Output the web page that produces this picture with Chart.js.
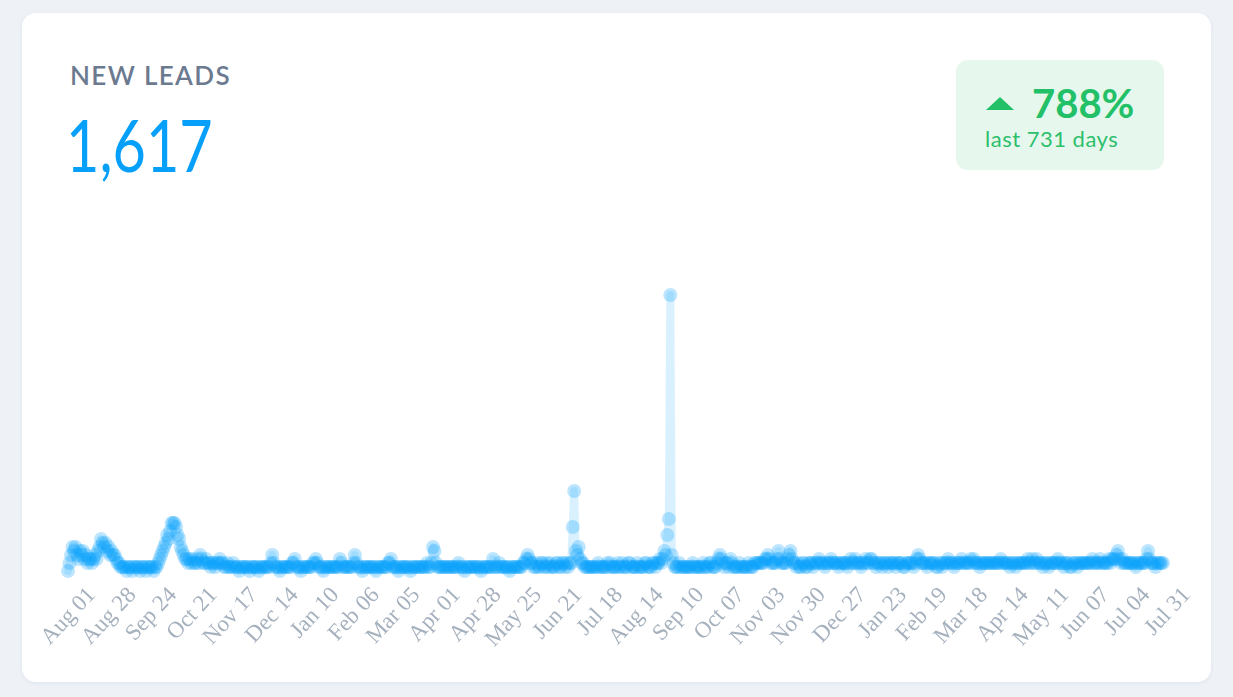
<!DOCTYPE html>
<html lang="en">
<head>
    <meta charset="UTF-8">
    <title>New Leads</title>
    <script src="https://cdn.jsdelivr.net/npm/chart.js"></script>
    <style>
        body { margin: 0; background: #eef2f7; font-family: Lato, "Open Sans", sans-serif; }
        .card {
            position: absolute; left: 22px; top: 13px; width: 1189px; height: 669px;
            background: #fff; border-radius: 14px; box-shadow: 0 1px 4px rgba(30, 50, 80, 0.07);
        }
        .title { position: absolute; left: 48px; top: 46px; font-size: 26px; font-weight: 600; color: #6c7a90; letter-spacing: 1.4px; }
        .total {
            position: absolute; left: 44px; top: 88px; font-size: 72px; font-weight: 400; color: #06a0fa;
            transform: scaleX(0.8); transform-origin: left top;
        }
        .badge {
            position: absolute; left: 934px; top: 47px; width: 208px; height: 110px;
            background: #e6f7ee; border-radius: 12px; color: #22c067;
        }
        .badge .up {
            position: absolute; left: 30px; top: 37px; width: 0; height: 0;
            border-left: 14px solid transparent; border-right: 14px solid transparent; border-bottom: 13px solid #22c067;
        }
        .badge .pct { position: absolute; left: 76px; top: 19px; font-size: 40px; font-weight: 700; }
        .badge .days { position: absolute; left: 29px; top: 65px; font-size: 22px; color: #2cbf6c; letter-spacing: 0.5px; }
        .chart-box { position: absolute; left: 0; top: 190px; width: 1189px; height: 479px; }
    </style>
</head>
<body>
    <div class="card">
        <div class="title">NEW LEADS</div>
        <div class="total">1,617</div>
        <div class="badge">
            <div class="up"></div>
            <div class="pct">788%</div>
            <div class="days">last 731 days</div>
        </div>
        <div class="chart-box"><canvas id="chart"></canvas></div>
    </div>
    <script>
        // daily new leads, Aug 01 2020 .. Jul 31 2022
        var startDate = '2020-08-01';
        var tickEvery = 27;
        var leads = [
            0,2,4,6,5,6,4,3,5,4, 5,3,4,2,3,3,2,3,4,3, 5,6,8,7,6,7,5,6,4,5,
            4,4,3,2,2,1,1,1,1,0, 1,1,1,0,1,1,1,1,0,1, 1,1,0,1,1,1,1,0,1,1,
            2,3,4,5,6,7,9,8,10,12, 12,12,11,9,8,6,5,4,3,3, 2,3,2,3,2,2,3,2,4,3,
            2,2,3,2,2,1,2,2,1,2, 2,3,2,2,1,1,2,1,1,1, 2,1,1,1,0,1,1,1,1,1,
            1,0,1,1,1,1,1,0,1,1, 1,1,1,1,1,2,4,2,1,1, 1,0,1,1,1,1,1,1,1,2,
            2,3,1,1,1,0,1,1,1,1, 1,1,1,2,2,3,2,1,1,1, 0,1,1,1,1,1,1,1,1,1,
            1,3,2,1,1,1,1,1,1,1, 2,4,2,1,1,1,0,1,1,1, 1,1,1,1,1,0,1,1,1,1,
            1,1,1,2,2,3,1,1,1,1, 0,1,1,1,1,1,1,1,0,1, 1,1,1,1,1,1,1,1,1,2,
            1,1,2,6,5,2,1,1,1,1, 1,1,1,1,1,1,1,1,1,1, 2,1,1,1,0,1,1,1,1,1,
            1,1,1,1,1,0,1,1,1,1, 1,1,1,3,1,1,1,2,1,1, 1,1,1,1,0,1,1,1,1,1,
            1,1,1,2,2,3,4,3,2,2, 1,1,2,1,1,2,2,1,1,2, 1,2,1,1,1,2,2,1,1,2,
            2,1,2,1,2,2,11,20,5,4, 6,3,2,2,1,1,1,1,1,1, 1,1,1,2,1,1,1,1,1,2,
            1,2,1,1,1,1,2,1,1,2, 1,1,1,2,2,1,1,1,1,2, 1,1,1,1,2,2,1,1,1,2,
            2,1,2,2,3,2,3,5,4,9, 13,69,4,2,1,1,1,2,1,1, 1,1,1,1,1,1,2,1,1,1,
            1,1,1,2,1,1,1,2,2,1, 1,1,2,3,4,3,2,1,2,2, 1,3,2,1,1,1,1,2,1,1,
            1,1,1,2,1,1,1,2,2,2, 2,2,2,2,3,3,4,3,2,2, 2,2,3,5,3,2,2,2,2,3,
            4,5,3,2,2,1,2,1,1,2, 2,1,1,2,2,2,1,2,2,2, 3,2,2,2,1,2,2,2,3,2,
            2,2,2,1,2,2,2,2,2,1, 2,3,2,2,3,2,2,2,1,2, 2,3,2,2,3,3,2,2,1,2,
            2,2,1,2,2,2,1,2,2,2, 2,1,2,2,2,2,1,1,2,2, 2,2,2,1,2,3,4,3,2,2,
            2,2,1,2,2,2,2,2,1,1, 2,2,1,2,2,2,3,2,2,2, 1,2,2,2,2,3,2,2,2,2,
            2,3,2,3,2,2,2,1,2,2, 2,2,2,2,2,2,2,2,2,2, 2,3,2,2,2,2,2,1,2,2,
            2,1,2,2,2,2,2,2,2,3, 2,2,3,2,2,3,2,2,2,1, 2,2,2,1,2,2,2,2,2,3,
            2,2,2,1,2,2,2,1,1,2, 2,2,1,2,2,2,2,2,2,2, 2,2,3,2,2,2,2,3,2,2,
            2,2,2,3,2,3,3,3,4,5, 3,2,3,2,2,2,2,2,2,2, 2,1,2,2,2,2,2,2,3,5,
            3,2,2,2,1,2,2,2,2,2
        ];

        var months = ['Jan','Feb','Mar','Apr','May','Jun','Jul','Aug','Sep','Oct','Nov','Dec'];
        var days = [];
        var d0 = new Date(startDate + 'T00:00:00Z');
        for (var i = 0; i < leads.length; i++) {
            var d = new Date(d0.getTime() + i * 86400000);
            var dd = d.getUTCDate();
            days.push(months[d.getUTCMonth()] + ' ' + (dd < 10 ? '0' + dd : dd));
        }

        var ctx = document.getElementById('chart').getContext('2d');
        var chart = new Chart(ctx, {
            type: 'line',
            data: {
                labels: days,
                datasets: [{
                    label: 'New leads',
                    data: leads,
                    borderColor: 'rgba(0, 160, 250, 0.15)',
                    borderWidth: 8,
                    borderJoinStyle: 'round',
                    borderCapStyle: 'round',
                    pointRadius: 7,
                    pointBorderWidth: 0,
                    pointBackgroundColor: 'rgba(0, 160, 250, 0.26)',
                    tension: 0,
                    clip: false
                }]
            },
            options: {
                responsive: true,
                maintainAspectRatio: false,
                animation: false,
                layout: { padding: { left: 46, right: 48, top: 48, bottom: 21 } },
                plugins: { legend: { display: false }, tooltip: { enabled: false } },
                scales: {
                    x: {
                        grid: { display: false, drawTicks: false },
                        border: { display: false },
                        afterFit: function(scale) {
                            scale.height = 90;
                            scale.paddingLeft = 0;
                            scale.paddingRight = 0;
                        },
                        ticks: {
                            autoSkip: false,
                            minRotation: 47,
                            maxRotation: 47,
                            padding: 11,
                            labelOffset: 24,
                            color: '#a6b1be',
                            font: { family: '"Liberation Serif", "Times New Roman", serif', size: 23 },
                            callback: function(value, index) {
                                return index % tickEvery === 0 ? days[index] : null;
                            }
                        }
                    },
                    y: { display: false, min: 0, max: 80 }
                }
            }
        });
    </script>
</body>
</html>
